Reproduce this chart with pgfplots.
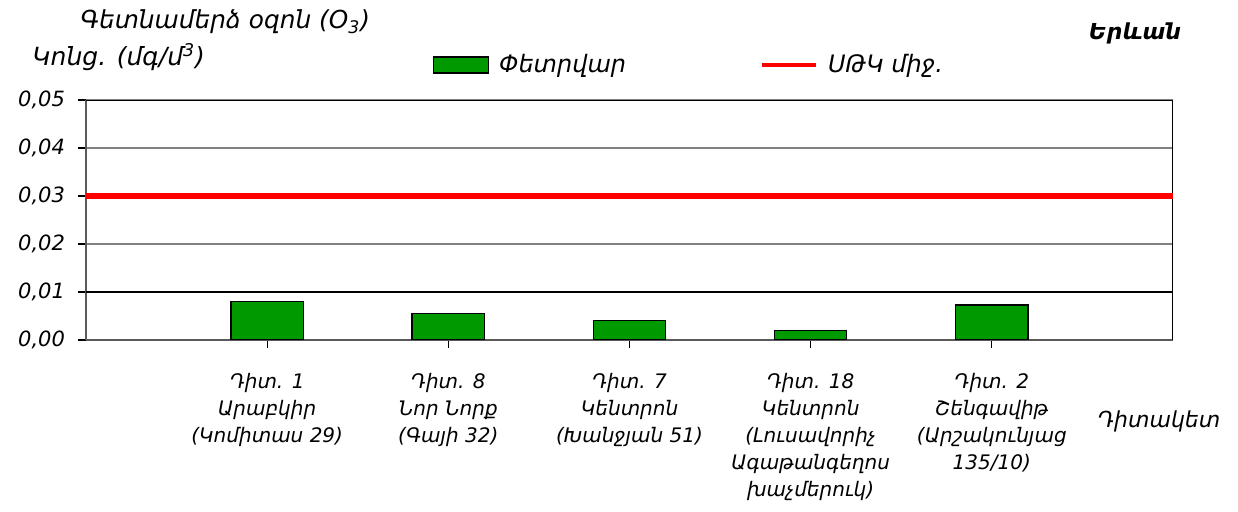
\documentclass[border=0pt]{standalone}
\usepackage{fontspec}
\setmainfont{DejaVu Sans}
\usepackage{pgfplots}
\pgfplotsset{compat=1.18}
\definecolor{bargreen}{RGB}{0,153,0}
\definecolor{axgray}{RGB}{90,90,90}
\pgfplotsset{
  boxlegend/.style={legend image code/.code={\draw[##1] (0pt,-4pt) rectangle (27.5pt,4pt);}},
  linelegend/.style={legend image code/.code={\draw[##1, line width=2pt] (0pt,0pt) -- (27pt,0pt);}},
}
\begin{document}
\begin{tikzpicture}[x=1pt,y=1pt]
\useasboundingbox (-43,-86) rectangle (576,170);
\begin{axis}[
  at={(0,0)}, anchor=south west,
  scale only axis, width=543.5pt, height=120pt,
  xmin=0, xmax=6, ymin=0, ymax=0.05,
  axis lines*=left,
  axis line style={line width=1.2pt, draw=axgray},
  xtick={1,2,3,4,5},
  xticklabels={
    {Դիտ. 1\\Արաբկիր\\(Կոմիտաս 29)},
    {Դիտ. 8\\Նոր Նորք\\(Գայի 32)},
    {Դիտ. 7\\Կենտրոն\\(Խանջյան 51)},
    {Դիտ. 18\\Կենտրոն\\(Լուսավորիչ\\Ագաթանգեղոս\\խաչմերուկ)},
    {Դիտ. 2\\Շենգավիթ\\(Արշակունյաց\\135/10)}},
  ytick={0,0.01,0.02,0.03,0.04,0.05},
  scaled y ticks=false,
  tick align=outside, major tick length=4pt,
  tick style={black, line width=0.6pt},
  ymajorgrids, major grid style={gray, line width=0.8pt},
  yticklabel style={/pgf/number format/fixed, /pgf/number format/fixed zerofill, /pgf/number format/precision=2, /pgf/number format/use comma, /pgf/number format/assume math mode=true},
  yticklabel style={font=\fontsize{10.5}{12}\selectfont\itshape, xshift=-3pt},
  xticklabel style={align=center, font=\fontsize{10}{13.5}\selectfont\itshape, yshift=-9pt},
  legend columns=2,
  legend style={at={(rel axis cs:0.3132,1.146)}, anchor=west, draw=none, fill=none,
    font=\fontsize{12}{14}\selectfont\itshape,
    /tikz/every odd column/.append style={column sep=3pt},
    /tikz/every even column/.append style={column sep=65pt}},
]
\draw[black, line width=0.8pt] (axis cs:0,0.01) -- (axis cs:6,0.01);
\draw[black, line width=0.8pt] (axis cs:0,0.05) -- (axis cs:6,0.05);
\draw[black, line width=0.8pt] (axis cs:6,0) -- (axis cs:6,0.05);
\addplot[ybar, bar width=0.4, fill=bargreen, draw=black, line width=0.6pt, boxlegend]
  coordinates {(1,0.0081) (2,0.0056) (3,0.0041) (4,0.0020) (5,0.0073)};
\addlegendentry{Փետրվար}
\addplot[red, line width=3pt, linelegend]
  coordinates {(0,0.03) (6,0.03)};
\addlegendentry{ՍԹԿ միջ.}
\end{axis}
\node[anchor=west, font=\fontsize{12.4}{14}\selectfont\itshape, inner sep=0pt] at (-3,159) {Գետնամերձ օզոն (O\textsubscript{3})};
\node[anchor=west, font=\fontsize{12.5}{14}\selectfont\itshape, inner sep=0pt] at (-27,141.5) {Կոնց. (մգ/մ\textsuperscript{3})};
\node[font=\fontsize{11}{13}\selectfont\bfseries\itshape, inner sep=0pt] at (524.5,153.5) {Երևան};
\node[font=\fontsize{11}{13}\selectfont\itshape, inner sep=0pt] at (536.5,-40.5) {Դիտակետ};
\end{tikzpicture}
\end{document}
